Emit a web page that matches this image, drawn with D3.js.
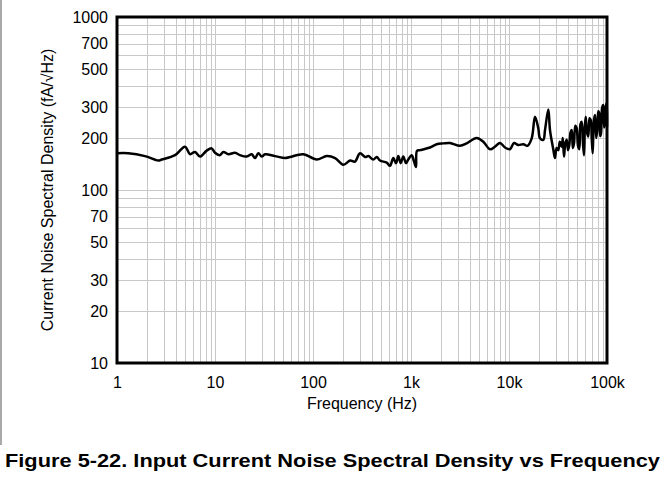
<!DOCTYPE html>
<html>
<head>
<meta charset="utf-8">
<script src="https://cdn.jsdelivr.net/npm/d3@7"></script>
<style>
  html, body { margin: 0; padding: 0; background: #fff; }
  svg { display: block; font-family: "Liberation Sans", Arial, sans-serif; }
</style>
</head>
<body>
<svg id="chart" width="663" height="487"></svg>
<script>
// Frequency (Hz)
const freq = [1, 1.3, 1.93, 2.64, 2.86, 3.91, 4.94, 5.56, 6.25, 7.03,
  8.23, 9.25, 10, 11.2, 12.2, 13.7, 16, 18, 21.1, 23.7,
  25.6, 27.7, 30, 32.4, 40.9, 51.8, 58.2, 79.6, 109, 138,
  168, 204, 239, 268, 302, 340, 367, 412, 447, 483,
  565, 611, 660, 703, 742, 785, 834, 889, 938, 1016,
  1074, 1125, 1150, 1236, 1563, 1829, 2138, 2500, 3162, 3699,
  4680, 5470, 6400, 7197, 8093, 9100, 10233, 11246, 12443, 13996,
  15376, 17050, 18418, 19916, 20720, 22400, 23300, 25190, 26200, 28300,
  29440, 30600, 31840, 33000, 34500, 35400, 36400, 37500, 38800, 40000,
  41240, 42400, 43640, 44800, 46050, 47500, 49090, 50600, 52140, 53600,
  55190, 56700, 58230, 59400, 60640, 62500, 64440, 66300, 68190, 69800,
  71450, 73400, 75480, 77500, 79620, 81500, 83520, 85200, 86930, 89300,
  91680, 93500, 95440, 97300, 99300, 100000];
// Current noise spectral density (fA/√Hz)
const noise = [163, 163, 157, 148, 150, 159, 178, 161, 166, 156,
  169, 174, 164, 159, 166, 161, 164, 159, 156, 161,
  153, 163, 156, 161, 157, 153, 155, 161, 150, 157,
  153, 140, 148, 146, 163, 155, 157, 150, 155, 148,
  144, 138, 153, 143, 157, 143, 156, 143, 150, 159,
  146, 136, 168, 170, 176, 184, 186, 187, 180, 186,
  200, 190, 172, 178, 187, 176, 172, 187, 182, 184,
  180, 199, 265, 227, 199, 195, 222, 292, 222, 172,
  153, 175, 170, 190, 178, 200, 156, 185, 195, 170,
  182, 215, 222, 175, 186, 235, 227, 180, 172, 240,
  248, 190, 159, 230, 265, 215, 204, 260, 254, 200,
  163, 250, 271, 200, 222, 285, 277, 205, 213, 300,
  310, 230, 248, 305, 317, 232];

const xTickValues = [1, 10, 100, 1000, 10000, 100000];
const xTickLabels = ["1", "10", "100", "1k", "10k", "100k"];
const yTickValues = [10, 20, 30, 50, 70, 100, 200, 300, 500, 700, 1000];
const yTickLabels = ["10", "20", "30", "50", "70", "100", "200", "300", "500", "700", "1000"];

const xTitle = "Frequency (Hz)";
const yTitle = "Current Noise Spectral Density (fA/\u221AHz)";
const figTitle = "Figure 5-22. Input Current Noise Spectral Density vs Frequency";

const svg = d3.select("#chart");
const L = 117, R = 607, T = 17, B = 363;

const x = d3.scaleLog().domain([1, 100000]).range([L, R]);
const y = d3.scaleLog().domain([10, 1000]).range([B, T]);

// left figure border
svg.append("line").attr("x1", 1).attr("x2", 1).attr("y1", 0).attr("y2", 445)
  .attr("stroke", "#8c8c8c").attr("stroke-width", 1.5);

// gridlines
const xGrid = [];
for (let d = 1; d < 100000; d *= 10) for (let m = 1; m <= 9; m++) xGrid.push(d * m);
xGrid.push(100000);
const yGrid = [];
for (let d = 10; d < 1000; d *= 10) for (let m = 1; m <= 9; m++) yGrid.push(d * m);

const grid = svg.append("g").attr("stroke", "#c8c8c8").attr("stroke-width", 1);
grid.selectAll("line.v").data(xGrid).join("line").attr("class", "v")
  .attr("x1", d => Math.round(x(d)) + 0.5).attr("x2", d => Math.round(x(d)) + 0.5)
  .attr("y1", T).attr("y2", B);
grid.selectAll("line.h").data(yGrid).join("line").attr("class", "h")
  .attr("y1", d => Math.round(y(d)) + 0.5).attr("y2", d => Math.round(y(d)) + 0.5)
  .attr("x1", L).attr("x2", R);

// axes (labels only)
const xAxis = d3.axisBottom(x).tickValues(xTickValues)
  .tickFormat((d, i) => xTickLabels[i]).tickSize(0).tickPadding(14);
const gx = svg.append("g").attr("transform", `translate(0,${B})`).call(xAxis);
gx.select(".domain").remove();
gx.selectAll("text").attr("font-size", 16).attr("fill", "#000")
  .attr("font-family", "Liberation Sans, Arial, sans-serif");

const yAxis = d3.axisLeft(y).tickValues(yTickValues)
  .tickFormat((d, i) => yTickLabels[i]).tickSize(0).tickPadding(9);
const gy = svg.append("g").attr("transform", `translate(${L},0)`).call(yAxis);
gy.select(".domain").remove();
gy.selectAll("text").attr("font-size", 16).attr("fill", "#000")
  .attr("font-family", "Liberation Sans, Arial, sans-serif");

// data line
const line = d3.line().x((d, i) => x(freq[i])).y(d => y(d))
  .curve(d3.curveCatmullRom.alpha(0.5));
svg.append("path").datum(noise).attr("d", line)
  .attr("fill", "none").attr("stroke", "#000").attr("stroke-width", 2.5)
  .attr("stroke-linejoin", "round");

// frame
svg.append("rect").attr("x", L).attr("y", T).attr("width", R - L).attr("height", B - T)
  .attr("fill", "none").attr("stroke", "#000").attr("stroke-width", 3);

// axis titles
svg.append("text").attr("x", (L + R) / 2).attr("y", 408.5).attr("text-anchor", "middle")
  .attr("font-size", 16).text(xTitle);
svg.append("text").attr("transform", `translate(47,${(T + B) / 2}) rotate(-90)`)
  .attr("text-anchor", "middle").attr("dominant-baseline", "central")
  .attr("font-size", 16).text(yTitle);

// figure title
svg.append("text").attr("x", 5).attr("y", 466.5).attr("font-size", 19)
  .attr("font-weight", "bold").attr("textLength", 655).attr("lengthAdjust", "spacingAndGlyphs")
  .text(figTitle);
</script>
</body>
</html>
